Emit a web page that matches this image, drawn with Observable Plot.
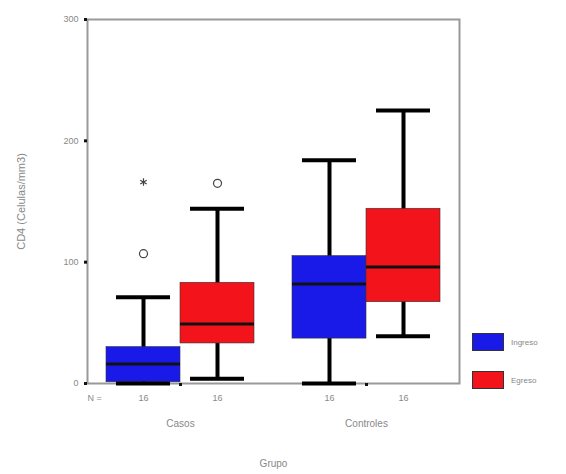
<!DOCTYPE html>
<html><head><meta charset="utf-8">
<script src="https://cdn.jsdelivr.net/npm/d3@7"></script>
<script src="https://cdn.jsdelivr.net/npm/@observablehq/plot@0.6"></script>
<style>
body{margin:0;background:#fff}
#wrap{position:relative;width:566px;height:474px;font-family:"Liberation Sans",Arial,sans-serif}
.lg{position:absolute;left:472px;display:flex;align-items:center;font-size:8px;color:#888}
.sw{width:30px;height:16px;border:1px solid #333;margin-right:7px}
</style>
</head><body><div id="wrap"></div>
<script>
const groupLabels = ["Casos", "Controles"];
const periodLabels = ["Ingreso", "Egreso"];
const boxGroups = ["Casos", "Casos", "Controles", "Controles"];
const boxPeriods = ["Ingreso", "Egreso", "Ingreso", "Egreso"];
const whiskerLow = [0, 4, 0, 39];
const q1 = [1, 33, 37, 67];
const median = [16, 49, 82, 96];
const q3 = [30, 83, 105, 144];
const whiskerHigh = [71, 144, 184, 225];
const counts = [16, 16, 16, 16];
const outGroups = ["Casos", "Casos", "Casos"];
const outPeriods = ["Ingreso", "Ingreso", "Egreso"];
const outValues = [107, 166, 165];
const outKinds = ["circle", "asterisk", "circle"];
const yTicks = [0, 100, 200, 300];
const colors = ["#1a1ae8", "#f2141a"];

const stats = boxGroups.map((g, i) => ({group: g, period: boxPeriods[i], lo: whiskerLow[i], q1: q1[i], median: median[i], q3: q3[i], hi: whiskerHigh[i], n: counts[i]}));
const outliers = outGroups.map((g, i) => ({group: g, period: outPeriods[i], value: outValues[i], kind: outKinds[i]}));

const chart = Plot.plot({
  width: 566, height: 474,
  marginLeft: 87, marginRight: 107, marginTop: 19, marginBottom: 91,
  style: {fontFamily: "'Liberation Sans', Arial, sans-serif", fontSize: "9px", color: "#888", background: "#fff"},
  fx: {domain: groupLabels, paddingInner: 0, paddingOuter: 0},
  x: {domain: periodLabels, paddingInner: 0, paddingOuter: 0.25, axis: null},
  y: {domain: [0, 300]},
  color: {domain: periodLabels, range: colors},
  marks: [
    Plot.frame({facet: "super", stroke: "#999", strokeWidth: 2}),
    Plot.ruleX(stats, {fx: "group", x: "period", y1: "lo", y2: "hi", stroke: "#000", strokeWidth: 4}),
    Plot.barY(stats, {fx: "group", x: "period", y1: "q1", y2: "q3", fill: "period", stroke: "#333", strokeWidth: 0.6}),
    Plot.tickY(stats, {fx: "group", x: "period", y: "median", stroke: "#111", strokeWidth: 3}),
    Plot.tickY(stats, {fx: "group", x: "period", y: "lo", stroke: "#000", strokeWidth: 4, inset: 10}),
    Plot.tickY(stats, {fx: "group", x: "period", y: "hi", stroke: "#000", strokeWidth: 4, inset: 10}),
    Plot.dot(outliers.filter(d => d.kind === "circle"), {fx: "group", x: "period", y: "value", symbol: "circle", r: 4, stroke: "#444", fill: "#fff", strokeWidth: 1.2}),
    Plot.dot(outliers.filter(d => d.kind === "asterisk"), {fx: "group", x: "period", y: "value", symbol: "asterisk", r: 3.5, stroke: "#444", strokeWidth: 1.2}),
    Plot.axisY({ticks: yTicks, tickSize: 3, strokeWidth: 3, stroke: "#111", tickPadding: 6, label: "CD4 (Celulas/mm3)", labelAnchor: "center", labelOffset: 70, labelArrow: "none", fill: "#888"}),
    Plot.axisFx({anchor: "bottom", tickSize: 3, strokeWidth: 3, stroke: "#111", tickPadding: 33, label: "Grupo", labelAnchor: "center", labelOffset: 83, labelArrow: "none", fill: "#888", fontSize: 10}),
    Plot.text(stats, {fx: "group", x: "period", text: "n", frameAnchor: "bottom", dy: 17, fill: "#888"}),
    Plot.text(["N ="], {fx: () => "Casos", frameAnchor: "bottom-left", dy: 17, fill: "#888"})
  ]
});
const wrap = document.getElementById("wrap");
wrap.appendChild(chart);
// enlarge the rotated y-axis title to match the reference
chart.querySelectorAll("text").forEach(t => {
  if (t.textContent === "CD4 (Celulas/mm3)") t.setAttribute("font-size", "11");
});
periodLabels.forEach((p, i) => {
  const d = document.createElement("div");
  d.className = "lg";
  d.style.top = (333 + i * 38) + "px";
  d.innerHTML = `<div class="sw" style="background:${colors[i]}"></div><span>${p}</span>`;
  wrap.appendChild(d);
});
</script>
</body></html>
